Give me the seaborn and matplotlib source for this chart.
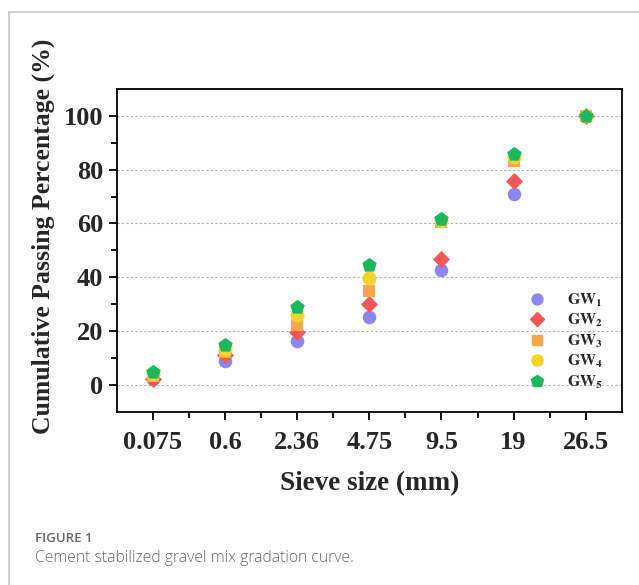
import numpy as np
import pandas as pd
import matplotlib
matplotlib.use("Agg")
import matplotlib.pyplot as plt
from matplotlib.lines import Line2D
from matplotlib.ticker import FixedLocator
import seaborn as sns

sieve = ["0.075", "0.6", "2.36", "4.75", "9.5", "19", "26.5"]
gw1 = [2.3, 9.0, 16.2, 25.4, 42.6, 71.1, 100]
gw2 = [2.2, 11.1, 19.5, 30.0, 46.7, 75.8, 100]
gw3 = [3.5, 12.2, 22.1, 34.9, 60.5, 83.4, 100]
gw4 = [4.0, 13.0, 26.0, 39.8, 61.0, 84.6, 100]
gw5 = [4.8, 14.7, 29.1, 44.6, 61.8, 85.7, 100]
series = ["GW1", "GW2", "GW3", "GW4", "GW5"]
labels = [r"$\mathbf{GW_1}$", r"$\mathbf{GW_2}$", r"$\mathbf{GW_3}$",
          r"$\mathbf{GW_4}$", r"$\mathbf{GW_5}$"]

colors = {"GW1": "#8c86f0", "GW2": "#f45656", "GW3": "#f9a54c",
          "GW4": "#f7d22a", "GW5": "#1bb85c"}
markers = {"GW1": "o", "GW2": "D", "GW3": "s", "GW4": "o", "GW5": "p"}
sizes = {"GW1": 95, "GW2": 75, "GW3": 75, "GW4": 100, "GW5": 120}

pos = np.arange(len(sieve))
df = pd.DataFrame({
    "pos": np.tile(pos, len(series)),
    "value": gw1 + gw2 + gw3 + gw4 + gw5,
    "series": np.repeat(series, len(sieve)),
})

sns.set_theme(style="ticks")
plt.rcParams["font.family"] = ["Liberation Serif", "DejaVu Serif"]
plt.rcParams["mathtext.fontset"] = "stix"

fig = plt.figure(figsize=(6.39, 5.85), dpi=100)
ax = fig.add_axes([0.183, 0.296, 0.790, 0.552])

for s in series:
    sub = df[df["series"] == s]
    sns.scatterplot(data=sub, x="pos", y="value", ax=ax, color=colors[s],
                    marker=markers[s], s=sizes[s], linewidth=0, zorder=3,
                    legend=False)

ax.set_xlim(-0.5, 6.5)
ax.set_ylim(-10, 110)
ax.set_xticks(pos)
ax.set_xticklabels(sieve)
ax.xaxis.set_minor_locator(FixedLocator(pos[:-1] + 0.5))
ax.set_yticks(np.arange(0, 101, 20))
ax.yaxis.set_minor_locator(FixedLocator(np.arange(10, 100, 20)))

for v in np.arange(0, 101, 20):
    ax.axhline(v, color="#b0b0b0", linestyle=(0, (2, 2)), linewidth=0.8, zorder=1)

for lab in ax.get_xticklabels() + ax.get_yticklabels():
    lab.set_fontweight("bold")
    lab.set_fontsize(19)

ax.tick_params(axis="both", which="major", direction="out", length=6, width=1.3,
               color="black", pad=4)
ax.tick_params(axis="both", which="minor", direction="out", length=4, width=1.3,
               color="black")
ax.tick_params(axis="x", pad=8)
for sp in ax.spines.values():
    sp.set_linewidth(1.3)
    sp.set_color("black")

ax.set_xlabel("Sieve size (mm)", fontsize=19.5, fontweight="bold", labelpad=12)
ax.set_ylabel("Cumulative Passing Percentage (%)", fontsize=18.5,
              fontweight="bold")
ax.yaxis.set_label_coords(-0.123, 0.545)

handles = [Line2D([], [], linestyle="none", marker=markers[s], color=colors[s],
                  markersize=np.sqrt(sizes[s]) * 0.8) for s in series]
leg = ax.legend(handles, labels, loc="lower right", bbox_to_anchor=(0.985, 0.03),
                frameon=False, fontsize=11.5, handletextpad=0.9,
                labelspacing=0.2, borderpad=0.2)

# figure frame lines
fig.add_artist(Line2D([0.014, 0.014], [0.0, 0.979], color="#c8c8c8",
                      linewidth=1.2, transform=fig.transFigure))
fig.add_artist(Line2D([0.014, 1.0], [0.979, 0.979], color="#c8c8c8",
                      linewidth=1.2, transform=fig.transFigure))

fig.text(0.055, 0.074, "FIGURE 1", fontsize=9.5, color="#666666",
         family=["Open Sans", "DejaVu Sans"], fontweight="semibold")
fig.text(0.055, 0.040, "Cement stabilized gravel mix gradation curve.",
         fontsize=11.3, color="#666666", family=["Open Sans", "DejaVu Sans"],
         fontweight="light")

fig.savefig("out.png", dpi=100)
